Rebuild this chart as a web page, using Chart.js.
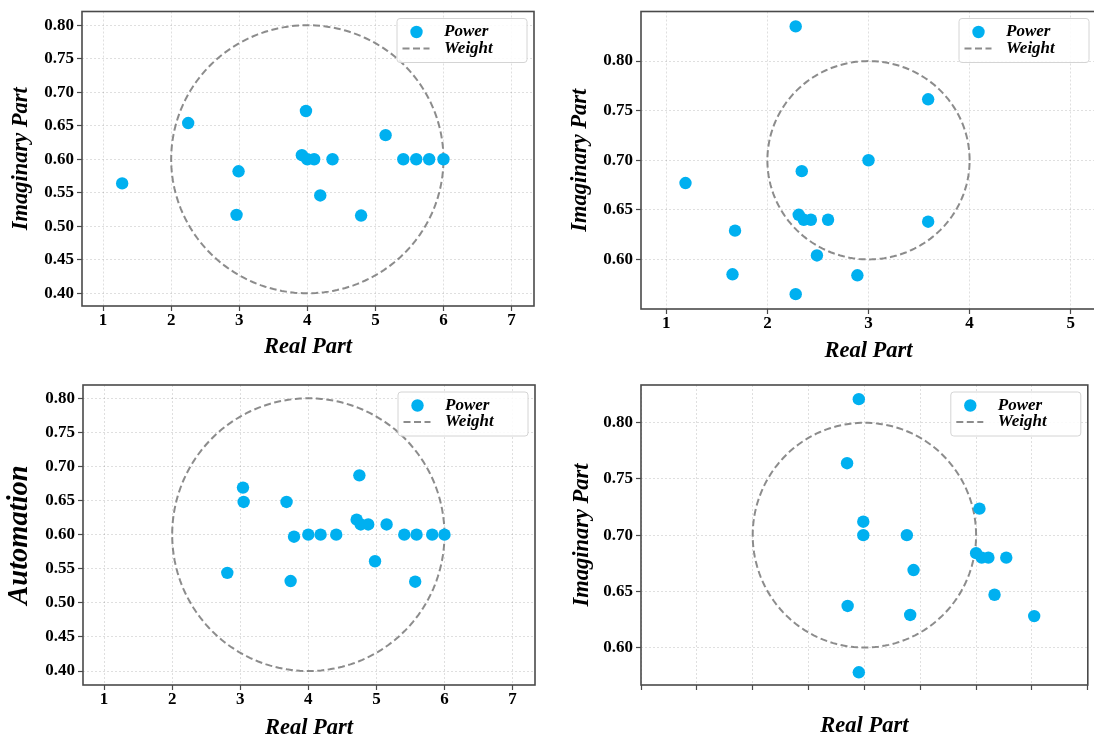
<!DOCTYPE html>
<html>
<head>
<meta charset="utf-8">
<script src="https://cdn.jsdelivr.net/npm/chart.js@4.4.1/dist/chart.umd.min.js"></script>
<style>
html, body { margin: 0; padding: 0; background: #fff; overflow: hidden; }
canvas { position: absolute; }
</style>
</head>
<body>
<canvas id="c1" width="547" height="371" style="left:0px;top:0px"></canvas>
<canvas id="c2" width="560" height="371" style="left:547px;top:0px"></canvas>
<canvas id="c3" width="547" height="371" style="left:0px;top:371px"></canvas>
<canvas id="c4" width="547" height="371" style="left:547px;top:371px"></canvas>
<script>
// series names
const pointLabel = 'Power';
const circleLabel = 'Weight';
const xTitle = 'Real Part';

// top-left
const realA = [1.28, 2.25, 2.99, 2.96, 3.98, 3.92, 4.0, 4.1, 4.37, 4.19, 4.79, 5.15, 5.41, 5.6, 5.79, 6.0];
const imagA = [0.564, 0.654, 0.582, 0.517, 0.672, 0.606, 0.600, 0.600, 0.600, 0.546, 0.516, 0.636, 0.600, 0.600, 0.600, 0.600];

// top-right
const realB = [2.28, 3.59, 3.0, 2.34, 1.19, 2.31, 2.36, 2.43, 2.60, 3.59, 1.68, 2.49, 1.655, 2.89, 2.28];
const imagB = [0.835, 0.7615, 0.700, 0.689, 0.677, 0.645, 0.640, 0.640, 0.640, 0.638, 0.629, 0.604, 0.585, 0.584, 0.565];

// bottom-left
const realC = [3.04, 3.05, 3.68, 4.75, 2.81, 3.74, 3.79, 4.0, 4.18, 4.41, 4.71, 4.77, 4.88, 5.15, 4.98, 5.41, 5.59, 5.82, 6.0, 5.57];
const imagC = [0.669, 0.648, 0.648, 0.687, 0.544, 0.532, 0.597, 0.600, 0.600, 0.600, 0.622, 0.615, 0.615, 0.615, 0.561, 0.600, 0.600, 0.600, 0.600, 0.531];

// bottom-right
const realD = [2.95, 2.845, 2.99, 2.99, 3.38, 3.44, 2.85, 3.41, 2.95, 4.03, 4.0, 4.05, 4.11, 4.27, 4.165, 4.52];
const imagD = [0.821, 0.764, 0.712, 0.700, 0.700, 0.669, 0.637, 0.629, 0.578, 0.7236, 0.684, 0.680, 0.680, 0.680, 0.647, 0.628];

// weight circles: center and radius (x, y)
const centerWide = [4, 0.6];
const radiusWide = [2, 0.2];
const centerNarrow = [3, 0.7];
const radiusNarrow = [1, 0.1];

// tick values
const xTicksWide = [1, 2, 3, 4, 5, 6, 7];
const yTicksWide = [0.40, 0.45, 0.50, 0.55, 0.60, 0.65, 0.70, 0.75, 0.80];
const xTicksNarrow = [1, 2, 3, 4, 5];
const yTicksNarrow = [0.60, 0.65, 0.70, 0.75, 0.80];
const xTicksHalf = [1, 1.5, 2, 2.5, 3, 3.5, 4, 4.5, 5];

const serif = '"Liberation Serif", "Times New Roman", serif';
const pointColor = '#00b0f0';
const circleColor = 'rgba(120,120,120,0.85)';
const frameColor = '#4a4a4a';

function ellipse(center, radius) {
    const pts = [];
    for (let i = 0; i <= 200; i++) {
        const t = i / 200 * 2 * Math.PI;
        pts.push({ x: center[0] + radius[0] * Math.cos(t), y: center[1] + radius[1] * Math.sin(t) });
    }
    return pts;
}

const frame = {
    id: 'frame',
    afterDatasetsDraw(chart) {
        const { ctx, chartArea: a } = chart;
        ctx.save();
        ctx.strokeStyle = frameColor;
        ctx.lineWidth = 1.6;
        ctx.strokeRect(a.left, a.top, a.right - a.left, a.bottom - a.top);
        ctx.restore();
    }
};

const boxLegend = {
    id: 'boxLegend',
    afterDraw(chart) {
        const { ctx, chartArea: a } = chart;
        const ds = chart.data.datasets;
        const w = 130, h = 44;
        const x0 = a.right - 7 - w, y0 = a.top + 7;
        ctx.save();
        ctx.beginPath();
        if (ctx.roundRect) ctx.roundRect(x0, y0, w, h, 3); else ctx.rect(x0, y0, w, h);
        ctx.fillStyle = 'rgba(255,255,255,0.85)';
        ctx.fill();
        ctx.strokeStyle = '#d4d4d4';
        ctx.lineWidth = 1;
        ctx.stroke();

        ctx.beginPath();
        ctx.arc(x0 + 19.5, y0 + 13.5, 6.2, 0, 2 * Math.PI);
        ctx.fillStyle = ds[0].backgroundColor;
        ctx.fill();

        ctx.beginPath();
        ctx.setLineDash(ds[1].borderDash);
        ctx.strokeStyle = ds[1].borderColor;
        ctx.lineWidth = ds[1].borderWidth;
        ctx.moveTo(x0 + 5.5, y0 + 30);
        ctx.lineTo(x0 + 32.5, y0 + 30);
        ctx.stroke();
        ctx.setLineDash([]);

        ctx.fillStyle = '#000';
        ctx.font = 'italic bold 17px ' + serif;
        ctx.textBaseline = 'middle';
        ctx.textAlign = 'left';
        ctx.fillText(ds[0].label, x0 + 47, y0 + 13.5);
        ctx.fillText(ds[1].label, x0 + 47, y0 + 30);
        ctx.restore();
    }
};

function makePanel(id, p) {
    new Chart(document.getElementById(id), {
        type: 'scatter',
        data: {
            datasets: [
                {
                    label: pointLabel,
                    data: p.real.map((x, i) => ({ x: x, y: p.imag[i] })),
                    pointRadius: 6.2,
                    pointHoverRadius: 6.2,
                    backgroundColor: pointColor,
                    borderWidth: 0
                },
                {
                    label: circleLabel,
                    data: ellipse(p.center, p.radius),
                    showLine: true,
                    pointRadius: 0,
                    borderColor: circleColor,
                    borderWidth: 2,
                    borderDash: [7, 3.5],
                    fill: false
                }
            ]
        },
        options: {
            responsive: false,
            animation: false,
            events: [],
            layout: { padding: { top: p.padTop, right: p.padRight, left: 0, bottom: 0 } },
            plugins: { legend: { display: false }, tooltip: { enabled: false } },
            scales: {
                x: {
                    type: 'linear',
                    min: p.xMin,
                    max: p.xMax,
                    afterBuildTicks: s => { s.ticks = p.xTicks.map(v => ({ value: v })); },
                    afterFit: s => { s.height = p.xAxisH; },
                    ticks: {
                        autoSkip: false,
                        maxRotation: 0,
                        padding: 1,
                        color: '#000',
                        font: { family: serif, size: 17, weight: 'bold', lineHeight: 1 },
                        callback: v => p.xLabels ? String(v) : ''
                    },
                    grid: { color: 'rgba(0,0,0,0.16)', lineWidth: 0.8, tickLength: 5, tickColor: frameColor, tickWidth: 1.2 },
                    border: { display: false, dash: [2, 2] },
                    title: {
                        display: true, text: xTitle, color: '#000',
                        font: { family: serif, size: 22.5, weight: 'bold', style: 'italic', lineHeight: 1 },
                        padding: { top: 0, bottom: p.xTitlePad }
                    }
                },
                y: {
                    type: 'linear',
                    min: p.yMin,
                    max: p.yMax,
                    afterBuildTicks: s => { s.ticks = p.yTicks.map(v => ({ value: v })); },
                    afterFit: s => { s.width = p.yAxisW; },
                    ticks: {
                        autoSkip: false,
                        padding: 3,
                        color: '#000',
                        font: { family: serif, size: 17, weight: 'bold', lineHeight: 1 },
                        callback: v => Number(v).toFixed(2)
                    },
                    grid: { color: 'rgba(0,0,0,0.16)', lineWidth: 0.8, tickLength: 5, tickColor: frameColor, tickWidth: 1.2 },
                    border: { display: false, dash: [2, 2] },
                    title: {
                        display: true, text: p.yTitle, color: '#000',
                        font: { family: serif, size: p.yTitleSize, weight: 'bold', style: 'italic', lineHeight: 1 },
                        padding: { top: p.yTitlePad, bottom: 0 }
                    }
                }
            }
        },
        plugins: [frame, boxLegend]
    });
}

makePanel('c1', {
    real: realA, imag: imagA, center: centerWide, radius: radiusWide,
    xMin: 0.69, xMax: 7.33, yMin: 0.381, yMax: 0.8205,
    xTicks: xTicksWide, yTicks: yTicksWide, xLabels: true,
    yTitle: 'Imaginary Part', yTitleSize: 22.5, yTitlePad: 10, xTitlePad: 12.5,
    padTop: 6, padRight: 13, yAxisW: 82, xAxisH: 65
});

makePanel('c2', {
    real: realB, imag: imagB, center: centerNarrow, radius: radiusNarrow,
    xMin: 0.75, xMax: 5.25, yMin: 0.55, yMax: 0.85,
    xTicks: xTicksNarrow, yTicks: yTicksNarrow, xLabels: true,
    yTitle: 'Imaginary Part', yTitleSize: 22.5, yTitlePad: 22, xTitlePad: 9,
    padTop: 6, padRight: 11, yAxisW: 94, xAxisH: 62
});

makePanel('c3', {
    real: realC, imag: imagC, center: centerWide, radius: radiusWide,
    xMin: 0.69, xMax: 7.33, yMin: 0.3795, yMax: 0.8195,
    xTicks: xTicksWide, yTicks: yTicksWide, xLabels: true,
    yTitle: 'Automation', yTitleSize: 28.5, yTitlePad: 5, xTitlePad: 3,
    padTop: 14, padRight: 12, yAxisW: 83, xAxisH: 57
});

makePanel('c4', {
    real: realD, imag: imagD, center: centerNarrow, radius: radiusNarrow,
    xMin: 1, xMax: 5, yMin: 0.5667, yMax: 0.8336,
    xTicks: xTicksHalf, yTicks: yTicksNarrow, xLabels: false,
    yTitle: 'Imaginary Part', yTitleSize: 22.5, yTitlePad: 24, xTitlePad: 5,
    padTop: 14, padRight: 2, yAxisW: 94, xAxisH: 57
});
</script>
</body>
</html>
